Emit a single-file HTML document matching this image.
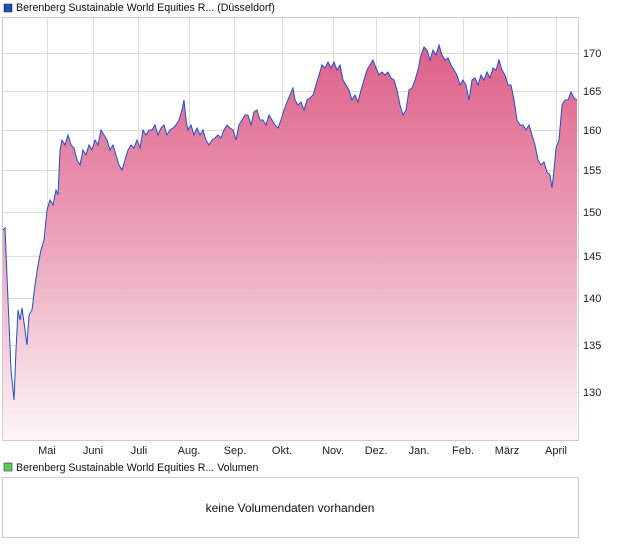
<!DOCTYPE html>
<html><head><meta charset="utf-8"><style>
body{margin:0;background:#fff;width:620px;height:546px;overflow:hidden;font-family:"Liberation Sans",sans-serif}
</style></head><body>
<svg width="620" height="546" xmlns="http://www.w3.org/2000/svg" font-family="Liberation Sans, sans-serif">
<defs><linearGradient id="g" x1="0" y1="0" x2="0" y2="1">
<stop offset="0" stop-color="#de5f88"/><stop offset="0.5" stop-color="#eba3bb"/><stop offset="1" stop-color="#fdf6f8"/></linearGradient></defs>
<rect x="4" y="4" width="8" height="8" fill="#1c4db8" stroke="#333" stroke-width="0.6"/>
<text x="16" y="11" font-size="10.6" fill="#111">Berenberg Sustainable World Equities R... (Düsseldorf)</text>
<rect x="2.5" y="17.5" width="576" height="423" fill="#fff" stroke="#ccc"/>
<g stroke="#ddd" stroke-width="1">
<line x1="47.5" y1="18" x2="47.5" y2="440"/><line x1="93.5" y1="18" x2="93.5" y2="440"/><line x1="138.5" y1="18" x2="138.5" y2="440"/><line x1="189.5" y1="18" x2="189.5" y2="440"/><line x1="234.5" y1="18" x2="234.5" y2="440"/><line x1="282.5" y1="18" x2="282.5" y2="440"/><line x1="333.5" y1="18" x2="333.5" y2="440"/><line x1="376.5" y1="18" x2="376.5" y2="440"/><line x1="419.5" y1="18" x2="419.5" y2="440"/><line x1="463.5" y1="18" x2="463.5" y2="440"/><line x1="507.5" y1="18" x2="507.5" y2="440"/><line x1="556.5" y1="18" x2="556.5" y2="440"/>
<line x1="3" y1="53.5" x2="578" y2="53.5"/><line x1="3" y1="91.5" x2="578" y2="91.5"/><line x1="3" y1="130.5" x2="578" y2="130.5"/><line x1="3" y1="170.5" x2="578" y2="170.5"/><line x1="3" y1="212.5" x2="578" y2="212.5"/><line x1="3" y1="256.5" x2="578" y2="256.5"/><line x1="3" y1="298.5" x2="578" y2="298.5"/><line x1="3" y1="345.5" x2="578" y2="345.5"/><line x1="3" y1="392.5" x2="578" y2="392.5"/>
</g>
<path d="M3,440 L3,230 L5,228 L8,300 L11,370 L14,400 L16,350 L18,310 L20,320 L22,308 L25,330 L27,345 L29,315 L32,310 L35,285 L38,265 L41,250 L44,240 L47,210 L50,200 L53,205 L56,190 L58,195 L60,150 L62,140 L65,145 L68,135 L71,145 L74,148 L77,160 L80,165 L83,150 L86,155 L89,145 L92,150 L95,140 L98,145 L101,130 L104,135 L107,140 L110,150 L113,145 L116,155 L119,165 L122,170 L125,160 L128,150 L131,145 L134,148 L137,140 L140,148 L143,130 L146,135 L149,130 L152,130 L155,125 L158,135 L161,128 L164,125 L167,135 L170,130 L173,128 L176,125 L179,120 L182,110 L184,100 L186,120 L188,130 L191,125 L194,135 L197,128 L200,135 L203,130 L206,140 L209,145 L212,140 L215,138 L218,135 L221,138 L224,130 L227,125 L230,128 L233,130 L236,140 L239,125 L242,120 L245,115 L248,115 L251,125 L254,112 L257,110 L260,120 L263,120 L266,125 L269,115 L272,120 L275,125 L278,128 L281,120 L284,110 L287,102 L290,95 L293,88 L295,100 L298,105 L301,102 L304,110 L307,100 L310,98 L313,95 L316,85 L319,75 L322,65 L325,68 L328,62 L331,68 L334,62 L337,70 L340,65 L343,80 L346,85 L349,90 L352,100 L355,95 L358,102 L361,90 L364,80 L367,70 L370,65 L373,60 L376,68 L379,75 L382,72 L385,75 L388,72 L391,78 L394,80 L397,90 L400,105 L403,115 L406,110 L409,90 L412,88 L415,80 L418,70 L421,55 L424,47 L427,50 L430,60 L433,50 L436,55 L439,45 L442,55 L445,60 L448,58 L451,65 L454,70 L457,75 L460,85 L463,80 L466,85 L469,100 L472,80 L475,78 L478,85 L481,75 L484,80 L487,72 L490,78 L493,68 L496,70 L499,60 L502,70 L505,75 L508,85 L511,85 L514,100 L517,120 L520,125 L523,125 L526,130 L529,125 L532,135 L535,145 L538,160 L541,165 L544,162 L547,172 L550,175 L552,188 L554,170 L556,148 L559,140 L562,105 L565,100 L568,100 L571,92 L574,98 L577,100 L577,440 Z" fill="url(#g)"/>
<path d="M3,230 L5,228 L8,300 L11,370 L14,400 L16,350 L18,310 L20,320 L22,308 L25,330 L27,345 L29,315 L32,310 L35,285 L38,265 L41,250 L44,240 L47,210 L50,200 L53,205 L56,190 L58,195 L60,150 L62,140 L65,145 L68,135 L71,145 L74,148 L77,160 L80,165 L83,150 L86,155 L89,145 L92,150 L95,140 L98,145 L101,130 L104,135 L107,140 L110,150 L113,145 L116,155 L119,165 L122,170 L125,160 L128,150 L131,145 L134,148 L137,140 L140,148 L143,130 L146,135 L149,130 L152,130 L155,125 L158,135 L161,128 L164,125 L167,135 L170,130 L173,128 L176,125 L179,120 L182,110 L184,100 L186,120 L188,130 L191,125 L194,135 L197,128 L200,135 L203,130 L206,140 L209,145 L212,140 L215,138 L218,135 L221,138 L224,130 L227,125 L230,128 L233,130 L236,140 L239,125 L242,120 L245,115 L248,115 L251,125 L254,112 L257,110 L260,120 L263,120 L266,125 L269,115 L272,120 L275,125 L278,128 L281,120 L284,110 L287,102 L290,95 L293,88 L295,100 L298,105 L301,102 L304,110 L307,100 L310,98 L313,95 L316,85 L319,75 L322,65 L325,68 L328,62 L331,68 L334,62 L337,70 L340,65 L343,80 L346,85 L349,90 L352,100 L355,95 L358,102 L361,90 L364,80 L367,70 L370,65 L373,60 L376,68 L379,75 L382,72 L385,75 L388,72 L391,78 L394,80 L397,90 L400,105 L403,115 L406,110 L409,90 L412,88 L415,80 L418,70 L421,55 L424,47 L427,50 L430,60 L433,50 L436,55 L439,45 L442,55 L445,60 L448,58 L451,65 L454,70 L457,75 L460,85 L463,80 L466,85 L469,100 L472,80 L475,78 L478,85 L481,75 L484,80 L487,72 L490,78 L493,68 L496,70 L499,60 L502,70 L505,75 L508,85 L511,85 L514,100 L517,120 L520,125 L523,125 L526,130 L529,125 L532,135 L535,145 L538,160 L541,165 L544,162 L547,172 L550,175 L552,188 L554,170 L556,148 L559,140 L562,105 L565,100 L568,100 L571,92 L574,98 L577,100" fill="none" stroke="#1f4fcf" stroke-width="1"/>
<g font-size="11" fill="#222">
<text x="583" y="57">170</text><text x="583" y="95">165</text><text x="583" y="134">160</text><text x="583" y="174">155</text><text x="583" y="216">150</text><text x="583" y="260">145</text><text x="583" y="302">140</text><text x="583" y="349">135</text><text x="583" y="396">130</text>
</g>
<g font-size="11" fill="#222" text-anchor="middle">
<text x="47" y="454">Mai</text><text x="93" y="454">Juni</text><text x="139" y="454">Juli</text><text x="189" y="454">Aug.</text><text x="235" y="454">Sep.</text><text x="282" y="454">Okt.</text><text x="333" y="454">Nov.</text><text x="376" y="454">Dez.</text><text x="419" y="454">Jan.</text><text x="463" y="454">Feb.</text><text x="507" y="454">März</text><text x="556" y="454">April</text>
</g>
<rect x="4" y="463" width="8" height="8" fill="#5ecb5e" stroke="#333" stroke-width="0.6"/>
<text x="16" y="471" font-size="10.6" fill="#111">Berenberg Sustainable World Equities R... Volumen</text>
<rect x="2.5" y="477.5" width="576" height="60" fill="#fff" stroke="#ccc"/>
<text x="290" y="512" font-size="12" fill="#111" text-anchor="middle">keine Volumendaten vorhanden</text>
</svg>
</body></html>
